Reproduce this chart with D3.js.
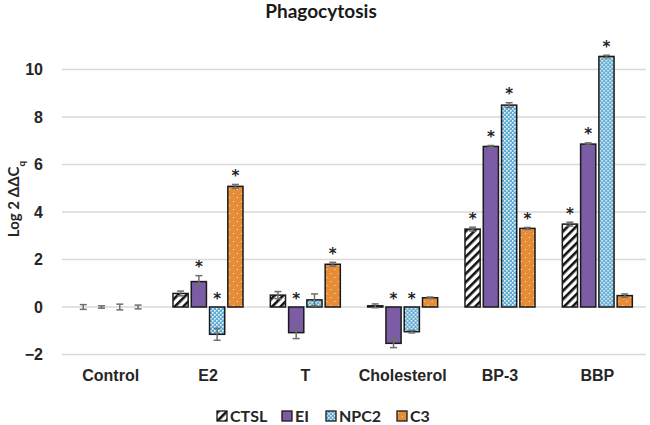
<!DOCTYPE html>
<html>
<head>
<meta charset="utf-8">
<script src="https://cdn.jsdelivr.net/npm/d3@7"></script>
<style>
  body { margin: 0; background: #fff; }
  svg { font-family: Lato, "Open Sans", sans-serif; }
</style>
</head>
<body>
<div id="chart"></div>
<script>
// chart data
var categories = ["Control", "E2", "T", "Cholesterol", "BP-3", "BBP"];
var series = ["CTSL", "EI", "NPC2", "C3"];
var ctslValues = [0.0, 0.57, 0.5, 0.05, 3.28, 3.49];
var eiValues   = [0.0, 1.07, -1.08, -1.53, 6.76, 6.86];
var npc2Values = [0.0, -1.15, 0.3, -1.04, 8.5, 10.55];
var c3Values   = [0.0, 5.08, 1.8, 0.39, 3.31, 0.48];
var ctslErr = [0.1, 0.1, 0.15, 0.08, 0.08, 0.08];
var eiErr   = [0.05, 0.25, 0.25, 0.18, 0.04, 0.05];
var npc2Err = [0.12, 0.25, 0.25, 0.05, 0.1, 0.05];
var c3Err   = [0.08, 0.08, 0.08, 0.03, 0.04, 0.07];
var ctslStar = [false, false, false, false, true, true];
var eiStar   = [false, true, true, true, true, true];
var npc2Star = [false, true, false, true, true, true];
var c3Star   = [false, true, true, false, true, false];
var yTicks = [-2, 0, 2, 4, 6, 8, 10];

var values = [ctslValues, eiValues, npc2Values, c3Values];
var errs = [ctslErr, eiErr, npc2Err, c3Err];
var stars = [ctslStar, eiStar, npc2Star, c3Star];

var width = 650, height = 425;
var margin = { top: 69.5, right: 4, bottom: 70.5, left: 62 };

var svg = d3.select("#chart").append("svg")
    .attr("width", width)
    .attr("height", height);

// fill patterns
var defs = svg.append("defs");

var stripes = defs.append("pattern")
    .attr("id", "pat-ctsl")
    .attr("patternUnits", "userSpaceOnUse")
    .attr("width", 6).attr("height", 6)
    .attr("patternTransform", "rotate(45)");
stripes.append("rect").attr("width", 6).attr("height", 6).attr("fill", "#fff");
stripes.append("rect").attr("width", 2.6).attr("height", 6).attr("fill", "#111");

var solid = defs.append("pattern")
    .attr("id", "pat-ei")
    .attr("patternUnits", "userSpaceOnUse")
    .attr("width", 4).attr("height", 4);
solid.append("rect").attr("width", 4).attr("height", 4).attr("fill", "#7b5ca5");

var dots = defs.append("pattern")
    .attr("id", "pat-npc2")
    .attr("patternUnits", "userSpaceOnUse")
    .attr("width", 4).attr("height", 4);
dots.append("rect").attr("width", 4).attr("height", 4).attr("fill", "#62abd1");
dots.append("rect").attr("x", 0).attr("y", 0).attr("width", 1.6).attr("height", 1.6).attr("fill", "#eef7fb");
dots.append("rect").attr("x", 2).attr("y", 2).attr("width", 1.6).attr("height", 1.6).attr("fill", "#eef7fb");

var spark = defs.append("pattern")
    .attr("id", "pat-c3")
    .attr("patternUnits", "userSpaceOnUse")
    .attr("width", 8).attr("height", 8);
spark.append("rect").attr("width", 8).attr("height", 8).attr("fill", "#e88d37");
spark.append("rect").attr("x", 1).attr("y", 1).attr("width", 1).attr("height", 1).attr("fill", "#fbe2c4");
spark.append("rect").attr("x", 5).attr("y", 5).attr("width", 1).attr("height", 1).attr("fill", "#fbe2c4");

var fills = ["url(#pat-ctsl)", "url(#pat-ei)", "url(#pat-npc2)", "url(#pat-c3)"];

// scales
var x = d3.scaleBand()
    .domain(categories)
    .range([margin.left, width - margin.right]);

var xSub = d3.scaleBand()
    .domain(series)
    .range([-35, 35])
    .paddingInner(0.17);

var y = d3.scaleLinear()
    .domain([-2, 10])
    .range([height - margin.bottom, margin.top]);

// gridlines
svg.append("g")
    .selectAll("line")
    .data(yTicks)
    .enter().append("line")
    .attr("x1", margin.left)
    .attr("x2", width - margin.right)
    .attr("y1", d => y(d))
    .attr("y2", d => y(d))
    .attr("stroke", "#d9d9d9")
    .attr("stroke-width", 1.3);

// y axis labels
var yAxis = svg.append("g")
    .attr("transform", "translate(43,0)")
    .call(d3.axisLeft(y).tickValues(yTicks).tickSize(0).tickPadding(0));
yAxis.select(".domain").remove();
yAxis.selectAll("text")
    .attr("fill", "#262626")
    .style("font-size", "16px")
    .style("font-weight", "bold");

// x axis labels
var xAxis = svg.append("g")
    .attr("transform", "translate(0,370)")
    .call(d3.axisBottom(x).tickSize(0).tickPadding(0));
xAxis.select(".domain").remove();
xAxis.selectAll("text")
    .attr("fill", "#262626")
    .style("font-size", "16px")
    .style("font-weight", "bold");

// bars
var groups = svg.append("g")
    .selectAll("g")
    .data(categories)
    .enter().append("g")
    .attr("transform", d => "translate(" + (x(d) + x.bandwidth() / 2) + ",0)");

var barData = function (cat, ci) {
    return series.map(function (s, si) {
        return { s: s, si: si, v: values[si][ci], e: errs[si][ci], star: stars[si][ci] };
    });
};

groups.each(function (cat, ci) {
    var g = d3.select(this);
    var items = barData(cat, ci);

    g.selectAll("rect.bar")
        .data(items.filter(d => d.v !== 0))
        .enter().append("rect")
        .attr("class", "bar")
        .attr("x", d => xSub(d.s))
        .attr("width", xSub.bandwidth())
        .attr("y", d => Math.min(y(d.v), y(0)))
        .attr("height", d => Math.abs(y(d.v) - y(0)))
        .attr("fill", d => fills[d.si])
        .attr("stroke", "#1a1a1a")
        .attr("stroke-width", 1.5);

    // error bars
    var eb = g.selectAll("g.err")
        .data(items)
        .enter().append("g")
        .attr("class", "err")
        .attr("stroke", "#6e6e6e")
        .attr("stroke-width", 1.5);
    eb.append("line")
        .attr("x1", d => xSub(d.s) + xSub.bandwidth() / 2)
        .attr("x2", d => xSub(d.s) + xSub.bandwidth() / 2)
        .attr("y1", d => y(d.v - d.e))
        .attr("y2", d => y(d.v + d.e));
    eb.append("line")
        .attr("x1", d => xSub(d.s) + xSub.bandwidth() / 2 - 3.5)
        .attr("x2", d => xSub(d.s) + xSub.bandwidth() / 2 + 3.5)
        .attr("y1", d => y(d.v + d.e))
        .attr("y2", d => y(d.v + d.e));
    eb.append("line")
        .attr("x1", d => xSub(d.s) + xSub.bandwidth() / 2 - 3.5)
        .attr("x2", d => xSub(d.s) + xSub.bandwidth() / 2 + 3.5)
        .attr("y1", d => y(d.v - d.e))
        .attr("y2", d => y(d.v - d.e));

    // significance stars
    g.selectAll("text.star")
        .data(items.filter(d => d.star))
        .enter().append("text")
        .attr("class", "star")
        .attr("x", d => xSub(d.s) + xSub.bandwidth() / 2)
        .attr("y", d => d.v > 0 ? y(d.v + d.e) - 3.5 : y(0) - 3.5)
        .attr("text-anchor", "middle")
        .attr("fill", "#222")
        .style("font-family", "'DejaVu Sans', sans-serif")
        .style("font-size", "15px")
        .style("font-weight", "bold")
        .text("*");
});

// title
svg.append("text")
    .attr("x", 321)
    .attr("y", 18)
    .attr("text-anchor", "middle")
    .attr("fill", "#1a1a1a")
    .style("font-size", "19px")
    .style("font-weight", "bold")
    .text("Phagocytosis");

// y axis title
var yTitle = svg.append("text")
    .attr("transform", "translate(19," + 199 + ") rotate(-90)")
    .attr("text-anchor", "middle")
    .attr("fill", "#262626")
    .style("font-size", "15px")
    .style("font-weight", "bold");
yTitle.append("tspan").text("Log 2 \u0394\u0394C");
yTitle.append("tspan")
    .attr("baseline-shift", "sub")
    .style("font-size", "10px")
    .text("q");

// legend
var legendX = [217, 282, 326, 397];
var legend = svg.append("g")
    .selectAll("g")
    .data(series)
    .enter().append("g")
    .attr("transform", (d, i) => "translate(" + legendX[i] + ",411)");
legend.append("rect")
    .attr("width", 10)
    .attr("height", 10)
    .attr("fill", (d, i) => fills[i])
    .attr("stroke", "#1a1a1a")
    .attr("stroke-width", 1.3);
legend.append("text")
    .attr("x", 13)
    .attr("y", 11)
    .attr("fill", "#262626")
    .style("font-size", "16px")
    .style("font-weight", "bold")
    .text(d => d);
</script>
</body>
</html>
